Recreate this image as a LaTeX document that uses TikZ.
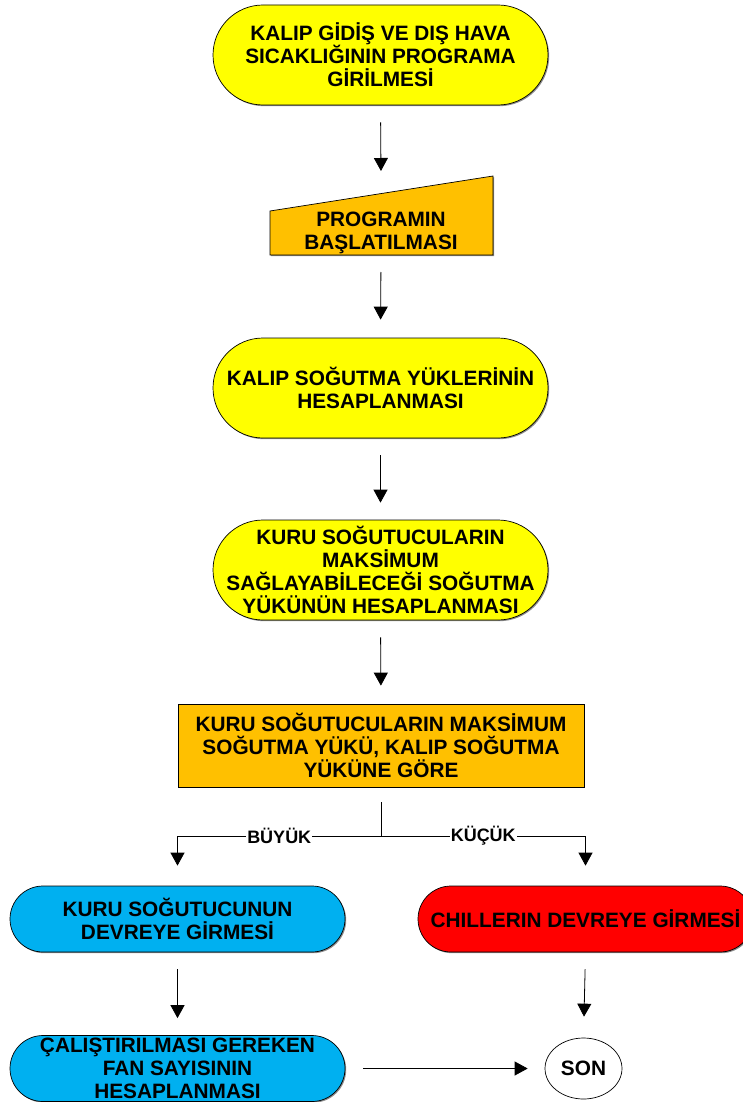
\documentclass[tikz,border=0pt]{standalone}
\usepackage{fontspec}
\setmainfont{Liberation Sans}
\usetikzlibrary{arrows.meta,shadows,shapes.geometric}
\definecolor{cyellow}{HTML}{FFFF00}
\definecolor{corange}{HTML}{FFC000}
\definecolor{cblue}{HTML}{00B0F0}
\definecolor{cred}{HTML}{FF0000}
\begin{document}
\begin{tikzpicture}[x=1pt,y=-1pt,
  txt/.style={font=\bfseries\fontsize{20.8}{23}\selectfont, align=center, inner sep=0pt},
  shade/.style={drop shadow={shadow xshift=1.2pt, shadow yshift=-1.2pt, fill=black!45, opacity=1}},
  stadium/.style={txt, draw=black, line width=0.7pt, shade, rectangle, rounded corners=#1},
  box/.style={txt, draw=black, line width=0.7pt, shade, rectangle},
  flow/.style={draw=black, line width=0.8pt, -{Triangle[width=14pt,length=13pt]}},
  plain/.style={draw=black, line width=0.8pt},
  branch/.style={font=\bfseries\fontsize{18}{20}\selectfont, fill=white, inner sep=1pt}
]
\useasboundingbox (0,0) rectangle (743,1102);

% start of the program
\node[stadium=50pt, fill=cyellow, minimum width=335pt, minimum height=100pt] (n1) at (380.5,55)
  {KALIP GİDİŞ VE DIŞ HAVA\\SICAKLIĞININ PROGRAMA\\GİRİLMESİ};

% manual input block
\coordinate (p2top) at (381,176);
\coordinate (p2bot) at (381,255);
\fill[black!45] (271.2,212.2) -- (494.2,177.2) -- (494.2,256.2) -- (271.2,256.2) -- cycle;
\filldraw[fill=corange, draw=black, line width=0.7pt]
  (270,211) -- (493,176) -- (493,255) -- (270,255) -- cycle;
\node[txt] (p2) at (381,232.5) {PROGRAMIN\\BAŞLATILMASI};

\node[stadium=50pt, fill=cyellow, minimum width=335pt, minimum height=100pt] (n3) at (380.5,388)
  {KALIP SOĞUTMA YÜKLERİNİN\\HESAPLANMASI};

\node[stadium=50pt, fill=cyellow, minimum width=335pt, minimum height=100pt] (n4) at (380.5,570)
  {KURU SOĞUTUCULARIN\\MAKSİMUM\\SAĞLAYABİLECEĞİ SOĞUTMA\\YÜKÜNÜN HESAPLANMASI};

% decision block
\node[box, fill=corange, minimum width=406pt, minimum height=83pt] (n5) at (381,745.5)
  {KURU SOĞUTUCULARIN MAKSİMUM\\SOĞUTMA YÜKÜ, KALIP SOĞUTMA\\YÜKÜNE GÖRE};

\node[stadium=33pt, fill=cblue, minimum width=335pt, minimum height=66pt] (n6) at (177.5,919)
  {KURU SOĞUTUCUNUN\\DEVREYE GİRMESİ};

\node[stadium=33pt, fill=cred, minimum width=335pt, minimum height=66pt] (n7) at (585.5,919)
  {CHILLERIN DEVREYE GİRMESİ};

\node[stadium=33pt, fill=cblue, minimum width=335pt, minimum height=66pt] (n8) at (177.5,1068.5)
  {ÇALIŞTIRILMASI GEREKEN\\FAN SAYISININ\\HESAPLANMASI};

\node[txt, draw=black, line width=0.7pt, ellipse, minimum width=77pt, minimum height=61pt] (son) at (583.5,1068.5) {SON};

% connectors
\draw[flow, shorten <=17pt, shorten >=5pt] (n1.south) -- (p2top);
\draw[flow, shorten <=17pt, shorten >=18pt] (p2bot) -- (n3.north);
\draw[flow, shorten <=17pt, shorten >=17pt] (n3.south) -- (n4.north);
\draw[flow, shorten <=17pt, shorten >=18pt] (n4.south) -- (n5.north);

\coordinate (split) at (381,836);
\draw[plain, shorten <=15pt] (n5.south) -- (split);
\draw[flow, shorten >=20pt] (split) -| node[branch, pos=0.25] {BÜYÜK} (n6.north);
\draw[flow, shorten >=20pt] (split) -| node[branch, pos=0.25] {KÜÇÜK} (n7.north);

\draw[flow, shorten <=17pt, shorten >=17pt] (n6.south) -- (n8.north);
\draw[flow, shorten <=17pt, shorten >=21pt] (n7.south) -- (son.north);
\draw[flow, shorten <=18pt, shorten >=17pt] (n8.east) -- (son.west);
\end{tikzpicture}
\end{document}
